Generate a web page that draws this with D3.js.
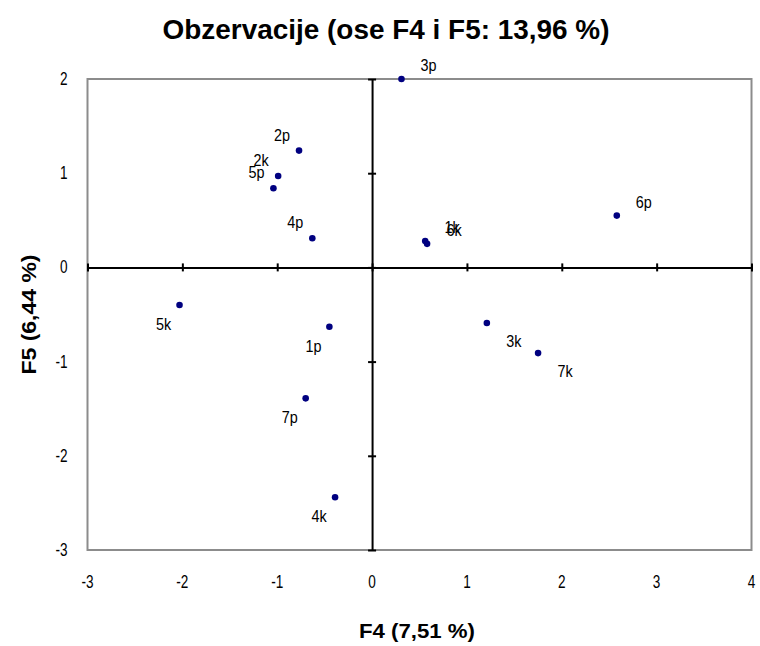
<!DOCTYPE html>
<html><head><meta charset="utf-8">
<script src="https://cdn.jsdelivr.net/npm/d3@7"></script>
<style>body{margin:0;background:#fff}</style>
</head><body><svg id="c" width="760" height="646"></svg>
<script>
const labels = ["3p","2p","2k","5p","4p","1k","6k","6p","5k","1p","3k","7k","7p","4k"];
const f4 = [0.31,-0.77,-0.99,-1.04,-0.63,0.56,0.58,2.58,-2.03,-0.45,1.21,1.75,-0.70,-0.39];
const f5 = [2.00,1.24,0.97,0.84,0.31,0.28,0.25,0.55,-0.40,-0.63,-0.59,-0.91,-1.39,-2.44];
const labelSide = ["ne","nw","nw","nw","nw","ne","ne","ne","sw","sw","se","se","sw","sw"];
const xTicks = [-3,-2,-1,0,1,2,3,4];
const yTicks = [-3,-2,-1,0,1,2];
const title = "Obzervacije (ose F4 i F5: 13,96 %)";
const xTitle = "F4 (7,51 %)";
const yTitle = "F5 (6,44 %)";

const svg = d3.select("#c");
const L = 87.5, R = 751.5, T = 79, B = 550;
const x = d3.scaleLinear().domain([-3,4]).range([L,R]);
const y = d3.scaleLinear().domain([-3,2]).range([B,T]);
const font = "'Liberation Sans Narrow','Arial Narrow','Liberation Sans',Arial,sans-serif";

svg.append("rect").attr("width",760).attr("height",646).attr("fill","#fff");
svg.append("rect").attr("x",L).attr("y",T).attr("width",R-L).attr("height",B-T)
  .attr("fill","none").attr("stroke","#8c8c8c").attr("stroke-width",2);

// axes through zero
const xAxis = d3.axisBottom(x).tickValues(xTicks).tickSize(0).tickFormat("");
const gx = svg.append("g").attr("transform",`translate(0,${y(0)})`).call(xAxis);
gx.select(".domain").attr("stroke","#000").attr("stroke-width",2);
gx.selectAll(".tick line").attr("y1",-4).attr("y2",4).attr("stroke","#000").attr("stroke-width",2);
const yAxis = d3.axisLeft(y).tickValues(yTicks).tickSize(0).tickFormat("");
const gy = svg.append("g").attr("transform",`translate(${x(0)},0)`).call(yAxis);
gy.select(".domain").attr("stroke","#000").attr("stroke-width",2);
gy.selectAll(".tick line").attr("x1",-4).attr("x2",4).attr("stroke","#000").attr("stroke-width",2);

// tick labels (narrowed glyphs)
const fmt = v => String(v);
svg.append("g").selectAll("text").data(xTicks).join("text")
  .attr("transform",d=>`translate(${x(d)},${B+38}) scale(0.85,1.1)`).attr("text-anchor","middle")
  .attr("font-family",font).attr("font-size",16).attr("fill","#000").text(fmt);
svg.append("g").selectAll("text").data(yTicks).join("text")
  .attr("transform",d=>`translate(${L-20},${y(d)+6}) scale(0.85,1.1)`).attr("text-anchor","end")
  .attr("font-family",font).attr("font-size",16).attr("fill","#000").text(fmt);

// titles
svg.append("text").attr("x",386).attr("y",39).attr("text-anchor","middle")
  .attr("font-family",font).attr("font-weight","bold").attr("font-size",27)
  .attr("textLength",447).attr("lengthAdjust","spacingAndGlyphs").text(title);
svg.append("text").attr("x",417).attr("y",638).attr("text-anchor","middle")
  .attr("font-family",font).attr("font-weight","bold").attr("font-size",21)
  .attr("textLength",116).attr("lengthAdjust","spacingAndGlyphs").text(xTitle);
svg.append("text").attr("transform",`translate(36,${(T+B)/2}) rotate(-90)`).attr("text-anchor","middle")
  .attr("font-family",font).attr("font-weight","bold").attr("font-size",21)
  .attr("textLength",120).attr("lengthAdjust","spacingAndGlyphs").text(yTitle);

// points
const data = labels.map((l,i)=>({l, x:f4[i], y:f5[i], s:labelSide[i]}));
const off = {ne:[27,-8], nw:[-17,-10], sw:[-16,25], se:[27,24]};
svg.append("g").selectAll("path").data(data).join("path")
  .attr("d", d3.symbol(d3.symbolCircle, 34))
  .attr("transform", d=>`translate(${x(d.x)},${y(d.y)})`)
  .attr("fill","#000080");
svg.append("g").selectAll("text").data(data).join("text")
  .attr("transform", d=>`translate(${x(d.x)+off[d.s][0]},${y(d.y)+off[d.s][1]}) scale(0.9,1.05)`)
  .attr("text-anchor","middle").attr("font-family",font).attr("font-size",16)
  .attr("fill","#000").text(d=>d.l);
</script></body></html>
